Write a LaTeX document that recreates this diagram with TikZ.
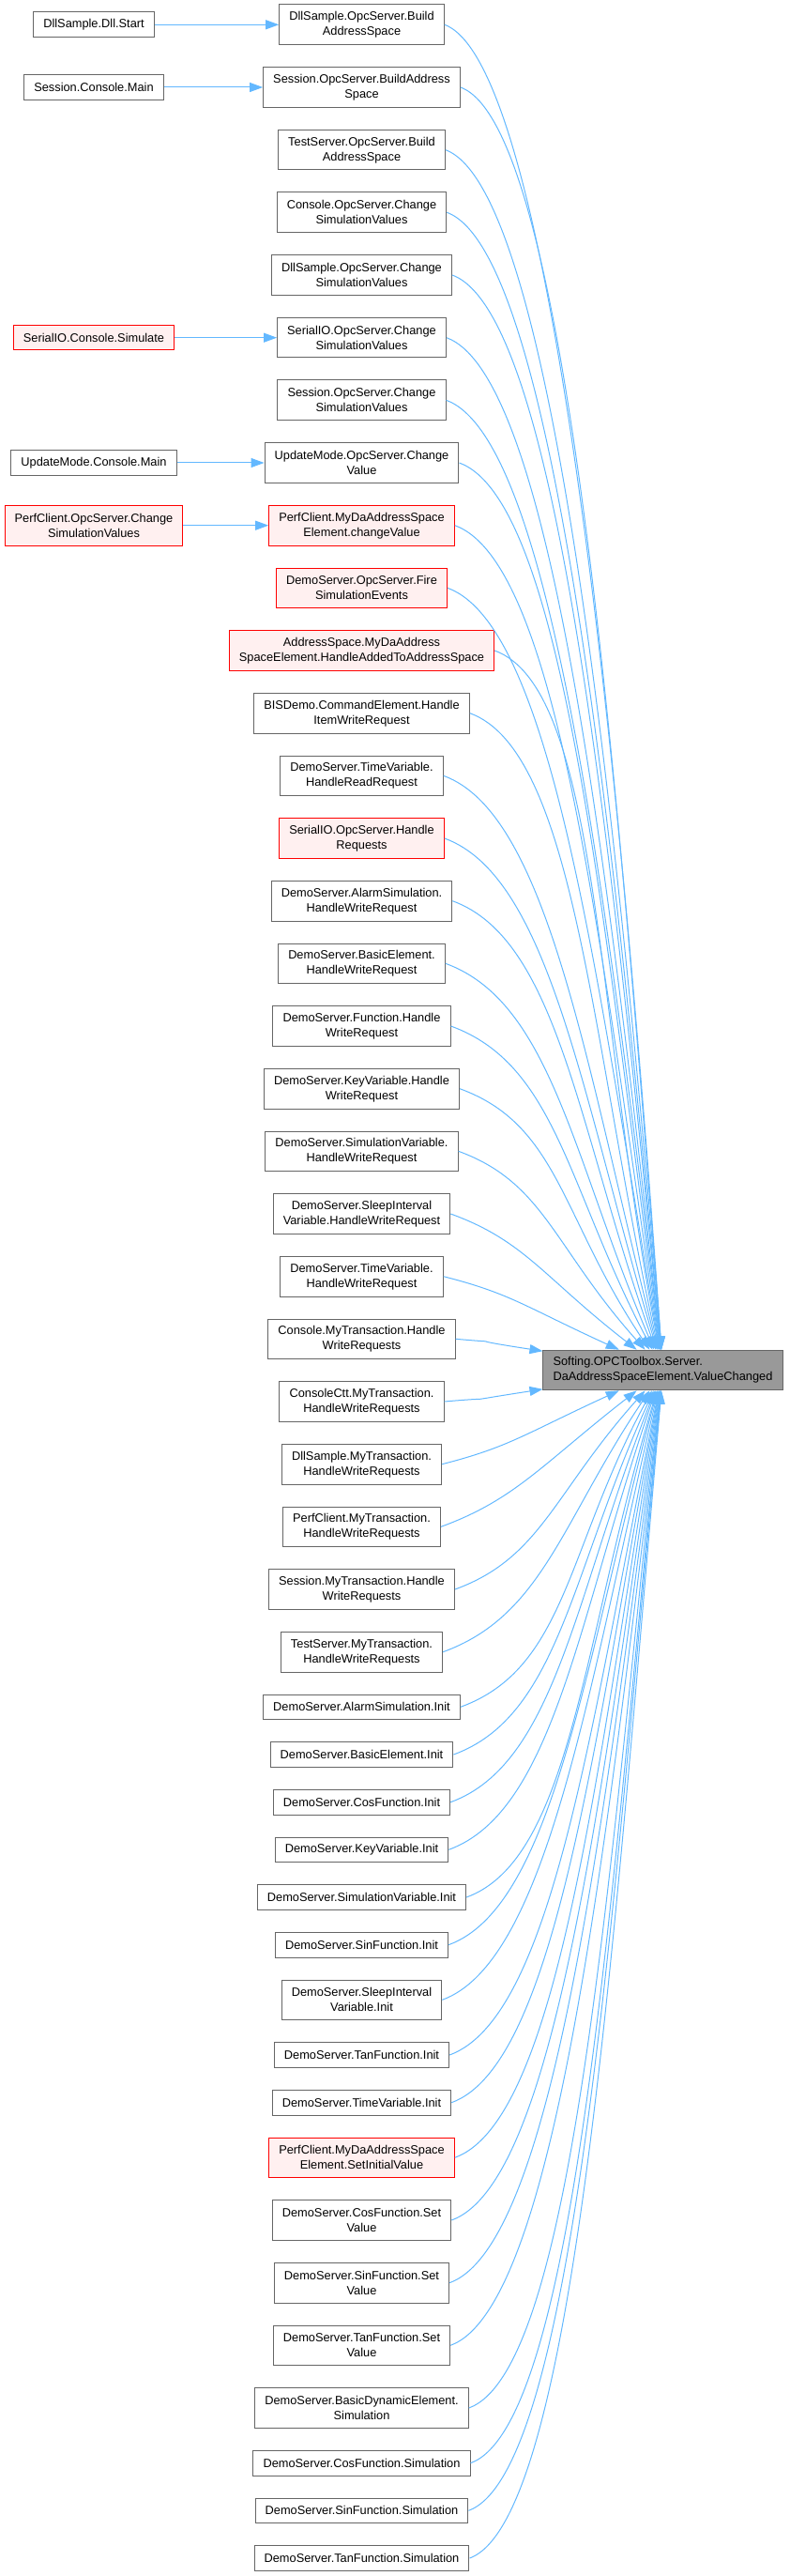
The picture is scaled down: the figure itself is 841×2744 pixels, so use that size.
\documentclass[tikz,border=0pt]{standalone}
\usepackage{fontspec}
\setmainfont{Liberation Sans}
\usepackage{xcolor}
\usepackage{tikz}
\usetikzlibrary{arrows.meta,calc}
\definecolor{edgeblue}{HTML}{63B8FF}
\definecolor{boxgray}{HTML}{666666}
\definecolor{redfill}{HTML}{FFF0F0}
\definecolor{focusfill}{HTML}{999999}
\tikzset{
  fn/.style={draw=boxgray,fill=white,line width=0.5pt,align=center,
             font=\fontsize{6.4}{8}\selectfont,inner xsep=5.3pt,inner ysep=0pt,
             minimum height=21.3pt},
  one/.style={fn,minimum height=13.3pt},
  redfn/.style={fn,draw=red,fill=redfill},
  redone/.style={one,draw=red,fill=redfill},
  focus/.style={fn,fill=focusfill,align=left},
  edge/.style={draw=edgeblue,line width=0.5pt,-{Triangle[length=7pt,width=5pt]}},
}

\begin{document}
\begin{tikzpicture}[x=0.5pt,y=-0.5pt]
  \useasboundingbox (0,0) rectangle (841,2744);
  % callee
  \node[focus] (vc) at (706.5,1459.5) {Softing.OPCToolbox.Server.\\DaAddressSpaceElement.ValueChanged};
  % outer callers
  \node[one] (dllstart) at (100,26.3) {DllSample.Dll.Start};
  \node[one] (sessmain) at (100,93) {Session.Console.Main};
  \node[redone] (sersim) at (100,359.7) {SerialIO.Console.Simulate};
  \node[one] (updmain) at (100,493) {UpdateMode.Console.Main};
  \node[redfn] (perfchange) at (100,559.7) {PerfClient.OpcServer.Change\\SimulationValues};
  % direct callers
  \node[fn] (dllbuild) at (385.5,26.3) {DllSample.OpcServer.Build\\AddressSpace};
  \node[fn] (sessbuild) at (385.5,93) {Session.OpcServer.BuildAddress\\Space};
  \node[fn] (testbuild) at (385.5,159.7) {TestServer.OpcServer.Build\\AddressSpace};
  \node[fn] (conchange) at (385.5,226.3) {Console.OpcServer.Change\\SimulationValues};
  \node[fn] (dllchange) at (385.5,293) {DllSample.OpcServer.Change\\SimulationValues};
  \node[fn] (serchange) at (385.5,359.7) {SerialIO.OpcServer.Change\\SimulationValues};
  \node[fn] (seschange) at (385.5,426.3) {Session.OpcServer.Change\\SimulationValues};
  \node[fn] (updvalue) at (385.5,493) {UpdateMode.OpcServer.Change\\Value};
  \node[redfn] (perfvalue) at (385.5,559.7) {PerfClient.MyDaAddressSpace\\Element.changeValue};
  \node[redfn] (firesim) at (385.5,626.3) {DemoServer.OpcServer.Fire\\SimulationEvents};
  \node[redfn] (addedspace) at (385.5,693) {AddressSpace.MyDaAddress\\SpaceElement.HandleAddedToAddressSpace};
  \node[fn] (bisitem) at (385.5,759.7) {BISDemo.CommandElement.Handle\\ItemWriteRequest};
  \node[fn] (timeread) at (385.5,826.3) {DemoServer.TimeVariable.\\HandleReadRequest};
  \node[redfn] (serreq) at (385.5,893) {SerialIO.OpcServer.Handle\\Requests};
  \node[fn] (alarmwrite) at (385.5,959.7) {DemoServer.AlarmSimulation.\\HandleWriteRequest};
  \node[fn] (basicwrite) at (385.5,1026.3) {DemoServer.BasicElement.\\HandleWriteRequest};
  \node[fn] (funcwrite) at (385.5,1093) {DemoServer.Function.Handle\\WriteRequest};
  \node[fn] (keywrite) at (385.5,1159.7) {DemoServer.KeyVariable.Handle\\WriteRequest};
  \node[fn] (simwrite) at (385.5,1226.3) {DemoServer.SimulationVariable.\\HandleWriteRequest};
  \node[fn] (sleepwrite) at (385.5,1293) {DemoServer.SleepInterval\\Variable.HandleWriteRequest};
  \node[fn] (timewrite) at (385.5,1359.7) {DemoServer.TimeVariable.\\HandleWriteRequest};
  \node[fn] (contrans) at (385.5,1426.3) {Console.MyTransaction.Handle\\WriteRequests};
  \node[fn] (ctttrans) at (385.5,1493) {ConsoleCtt.MyTransaction.\\HandleWriteRequests};
  \node[fn] (dlltrans) at (385.5,1559.7) {DllSample.MyTransaction.\\HandleWriteRequests};
  \node[fn] (perftrans) at (385.5,1626.3) {PerfClient.MyTransaction.\\HandleWriteRequests};
  \node[fn] (sestrans) at (385.5,1693) {Session.MyTransaction.Handle\\WriteRequests};
  \node[fn] (testtrans) at (385.5,1759.7) {TestServer.MyTransaction.\\HandleWriteRequests};
  \node[one] (alarminit) at (385.5,1818.3) {DemoServer.AlarmSimulation.Init};
  \node[one] (basicinit) at (385.5,1869) {DemoServer.BasicElement.Init};
  \node[one] (cosinit) at (385.5,1919.7) {DemoServer.CosFunction.Init};
  \node[one] (keyinit) at (385.5,1970.3) {DemoServer.KeyVariable.Init};
  \node[one] (siminit) at (385.5,2021) {DemoServer.SimulationVariable.Init};
  \node[one] (sininit) at (385.5,2071.7) {DemoServer.SinFunction.Init};
  \node[fn] (sleepinit) at (385.5,2130.3) {DemoServer.SleepInterval\\Variable.Init};
  \node[one] (taninit) at (385.5,2189) {DemoServer.TanFunction.Init};
  \node[one] (timeinit) at (385.5,2239.7) {DemoServer.TimeVariable.Init};
  \node[redfn] (perfinit) at (385.5,2298.3) {PerfClient.MyDaAddressSpace\\Element.SetInitialValue};
  \node[fn] (cosset) at (385.5,2365) {DemoServer.CosFunction.Set\\Value};
  \node[fn] (sinset) at (385.5,2431.7) {DemoServer.SinFunction.Set\\Value};
  \node[fn] (tanset) at (385.5,2498.3) {DemoServer.TanFunction.Set\\Value};
  \node[fn] (dynsim) at (385.5,2565) {DemoServer.BasicDynamicElement.\\Simulation};
  \node[one] (cossim) at (385.5,2623.7) {DemoServer.CosFunction.Simulation};
  \node[one] (sinsim) at (385.5,2674.3) {DemoServer.SinFunction.Simulation};
  \node[one] (tansim) at (385.5,2725) {DemoServer.TanFunction.Simulation};
  % outer edges
  \draw[edge] (dllstart) -- (dllbuild);
  \draw[edge] (sessmain) -- (sessbuild);
  \draw[edge] (sersim) -- (serchange);
  \draw[edge] (updmain) -- (updvalue);
  \draw[edge] (perfchange) -- (perfvalue);
  % fan into the callee: angles and lengths from the caller's row
  \foreach \nd/\yy in {dllbuild/26.3,sessbuild/93,testbuild/159.7,conchange/226.3,
      dllchange/293,serchange/359.7,seschange/426.3,updvalue/493,perfvalue/559.7,
      firesim/626.3,addedspace/693,bisitem/759.7,timeread/826.3,serreq/893,
      alarmwrite/959.7,basicwrite/1026.3,funcwrite/1093,keywrite/1159.7,
      simwrite/1226.3,sleepwrite/1293,timewrite/1359.7,contrans/1426.3,
      ctttrans/1493,dlltrans/1559.7,perftrans/1626.3,sestrans/1693,testtrans/1759.7,
      alarminit/1818.3,basicinit/1869,cosinit/1919.7,keyinit/1970.3,siminit/2021,
      sininit/2071.7,sleepinit/2130.3,taninit/2189,timeinit/2239.7,perfinit/2298.3,
      cosset/2365,sinset/2431.7,tanset/2498.3,dynsim/2565,cossim/2623.7,
      sinsim/2674.3,tansim/2725}{
    \pgfmathsetmacro\dyy{(1459.5-\yy)/100}
    \pgfmathsetmacro\sg{\dyy>0 ? 1 : -1}
    \pgfmathsetmacro\ang{atan2(\dyy,-2.265)}
    \pgfmathsetmacro\dev{abs(\ang)-90}
    \pgfmathsetmacro\ain{\sg*(90+\dev*(1-exp(-\dev/15)))}
    \pgfmathsetmacro\aout{-\sg*min(20,0.6*(180-abs(\ang)))}
    \pgfmathsetmacro\len{50*sqrt(2.265*2.265+\dyy*\dyy)}
    \pgfmathsetmacro\lout{min(0.3*\len,60)}
    \pgfmathsetmacro\lin{0.45*\len}
    \draw[edge] (\nd.east) .. controls ($(\nd.east)+(\aout:\lout pt)$)
      and ($(vc.\ain)+(\ain:\lin pt)$) .. (vc.\ain);
  }
\end{tikzpicture}
\end{document}
